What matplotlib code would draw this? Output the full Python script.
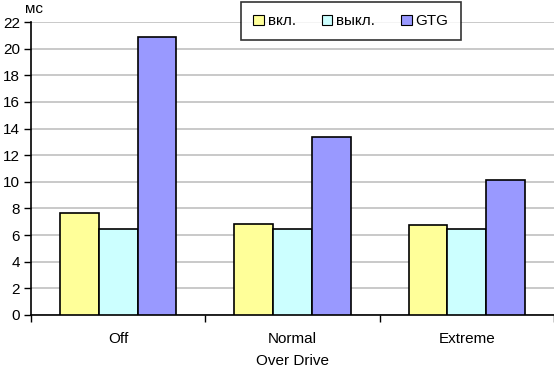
import matplotlib
matplotlib.use("Agg")
import matplotlib.pyplot as plt
import numpy as np
from matplotlib.patches import Patch

categories = ["Off", "Normal", "Extreme"]
series_names = ["вкл.", "выкл.", "GTG"]
vkl = [7.65, 6.85, 6.75]
vykl = [6.45, 6.45, 6.45]
gtg = [20.9, 13.35, 10.1]
colors = ["#FFFF99", "#CCFFFF", "#9999FF"]
yticks = list(range(0, 23, 2))

plt.rcParams['font.family'] = ['Liberation Sans', 'DejaVu Sans']
fig = plt.figure(figsize=(5.54, 3.71), dpi=100)
ax = fig.add_axes([31/554, 1-315/371, (554-31)/554, (315-22)/371])

x = np.arange(len(categories))
w = 0.222
for i, (vals, c) in enumerate(zip([vkl, vykl, gtg], colors)):
    ax.bar(x + (i-1)*w, vals, width=w, color=c, edgecolor="black", linewidth=1.2, zorder=3)

ax.set_xlim(-0.5, 2.5)
ax.set_ylim(0, 22)
ax.set_yticks(yticks)
ax.set_yticklabels([str(t) for t in yticks], fontsize=11)
ax.yaxis.grid(True, color="#C0C0C0", linewidth=1.2, zorder=0)
ax.set_axisbelow(True)
ax.set_xticks([-0.5, 0.5, 1.5, 2.5])
ax.set_xticklabels([])
ax.set_xticks(x, minor=True)
ax.set_xticklabels(categories, minor=True, fontsize=11)
ax.tick_params(axis='x', which='minor', length=0, pad=12)
ax.tick_params(axis='x', which='major', length=5, width=1, direction='out')
ax.tick_params(axis='y', length=5, width=1, direction='out', pad=3)
for s in ["top", "right"]:
    ax.spines[s].set_visible(False)
ax.spines["left"].set_linewidth(1.2)
ax.spines["bottom"].set_linewidth(1.2)
ax.set_xlabel("Over Drive", fontsize=11, labelpad=6)
fig.text(25/554, 1-9/371, "мс", fontsize=11, va="center", ha="left")

handles = [Patch(facecolor=c, edgecolor="black", linewidth=0.8) for c in colors]
leg = fig.legend(handles, series_names, loc="upper left", bbox_to_anchor=(241/554, 1-2/371),
                 borderaxespad=0, ncol=3, fontsize=11, frameon=True, fancybox=False,
                 edgecolor="black", handlelength=0.7, handleheight=0.7, handletextpad=0.25,
                 columnspacing=1.7, borderpad=0.8)
leg.get_frame().set_linewidth(1.2)

fig.savefig("out.png", dpi=100)
